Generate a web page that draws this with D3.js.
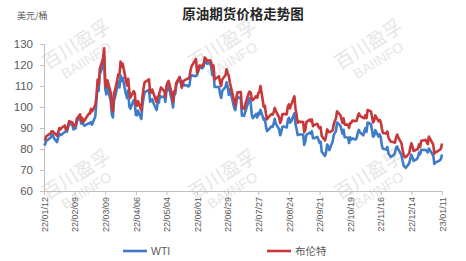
<!DOCTYPE html>
<html><head><meta charset="utf-8">
<script src="https://cdn.jsdelivr.net/npm/d3@7"></script>
<style>body{margin:0;background:#fff}svg{display:block}</style>
</head><body><svg id="c" width="466" height="261"></svg>
<script>
const dates = [
"22/01/12","22/01/13","22/01/14","22/01/18","22/01/19","22/01/20","22/01/21","22/01/24","22/01/25","22/01/26","22/01/27","22/01/28","22/01/31",
"22/02/01","22/02/02","22/02/03","22/02/04","22/02/07","22/02/08","22/02/09","22/02/10","22/02/11","22/02/14","22/02/15","22/02/16","22/02/17","22/02/18","22/02/22","22/02/23","22/02/24","22/02/25","22/02/28",
"22/03/01","22/03/02","22/03/03","22/03/04","22/03/07","22/03/08","22/03/09","22/03/10","22/03/11","22/03/14","22/03/15","22/03/16","22/03/17","22/03/18","22/03/21","22/03/22","22/03/23","22/03/24","22/03/25","22/03/28","22/03/29","22/03/30","22/03/31",
"22/04/01","22/04/04","22/04/05","22/04/06","22/04/07","22/04/08","22/04/11","22/04/12","22/04/13","22/04/14","22/04/18","22/04/19","22/04/20","22/04/21","22/04/22","22/04/25","22/04/26","22/04/27","22/04/28","22/04/29",
"22/05/02","22/05/03","22/05/04","22/05/05","22/05/06","22/05/09","22/05/10","22/05/11","22/05/12","22/05/13","22/05/16","22/05/17","22/05/18","22/05/19","22/05/20","22/05/23","22/05/24","22/05/25","22/05/26","22/05/27","22/05/31",
"22/06/01","22/06/02","22/06/03","22/06/06","22/06/07","22/06/08","22/06/09","22/06/10","22/06/13","22/06/14","22/06/15","22/06/16","22/06/17","22/06/21","22/06/22","22/06/23","22/06/24","22/06/27","22/06/28","22/06/29","22/06/30",
"22/07/01","22/07/05","22/07/06","22/07/07","22/07/08","22/07/11","22/07/12","22/07/13","22/07/14","22/07/15","22/07/18","22/07/19","22/07/20","22/07/21","22/07/22","22/07/25","22/07/26","22/07/27","22/07/28","22/07/29",
"22/08/01","22/08/02","22/08/03","22/08/04","22/08/05","22/08/08","22/08/09","22/08/10","22/08/11","22/08/12","22/08/15","22/08/16","22/08/17","22/08/18","22/08/19","22/08/22","22/08/23","22/08/24","22/08/25","22/08/26","22/08/29","22/08/30","22/08/31",
"22/09/01","22/09/02","22/09/06","22/09/07","22/09/08","22/09/09","22/09/12","22/09/13","22/09/14","22/09/15","22/09/16","22/09/19","22/09/20","22/09/21","22/09/22","22/09/23","22/09/26","22/09/27","22/09/28","22/09/29","22/09/30",
"22/10/03","22/10/04","22/10/05","22/10/06","22/10/07","22/10/10","22/10/11","22/10/12","22/10/13","22/10/14","22/10/17","22/10/18","22/10/19","22/10/20","22/10/21","22/10/24","22/10/25","22/10/26","22/10/27","22/10/28","22/10/31",
"22/11/01","22/11/02","22/11/03","22/11/04","22/11/07","22/11/08","22/11/09","22/11/10","22/11/11","22/11/14","22/11/15","22/11/16","22/11/17","22/11/18","22/11/21","22/11/22","22/11/23","22/11/25","22/11/28","22/11/29","22/11/30",
"22/12/01","22/12/02","22/12/05","22/12/06","22/12/07","22/12/08","22/12/09","22/12/12","22/12/13","22/12/14","22/12/15","22/12/16","22/12/19","22/12/20","22/12/21","22/12/22","22/12/23","22/12/27","22/12/28","22/12/29","22/12/30",
"23/01/03","23/01/04","23/01/05","23/01/06","23/01/09","23/01/10","23/01/11"];

const wti = [
82.64,82.12,83.82,85.43,86.96,86.90,85.14,83.31,85.60,87.35,86.61,86.82,88.15,
88.20,88.26,90.27,92.31,91.32,89.36,89.66,89.88,93.10,95.46,92.07,93.66,91.76,91.07,92.35,92.10,92.81,91.59,95.72,
103.41,110.60,107.67,115.68,119.40,123.70,108.70,106.02,109.33,103.01,96.44,95.04,102.98,104.70,112.12,109.27,114.93,112.34,113.90,105.96,104.24,107.82,100.28,
99.27,103.28,101.96,96.23,96.03,98.26,94.29,100.60,104.25,106.95,108.21,102.56,102.75,103.79,102.07,98.54,101.70,102.02,105.36,104.69,
105.17,102.41,107.81,108.26,109.77,103.09,99.76,105.71,106.13,110.49,114.20,112.40,109.59,112.21,110.28,110.29,109.77,110.33,114.09,115.07,114.67,
115.26,116.87,118.87,118.50,119.41,122.11,121.51,120.67,120.93,118.93,115.31,117.59,109.56,109.52,106.19,104.27,107.62,109.57,111.76,109.78,105.76,
108.43,99.50,98.53,102.73,104.79,104.09,95.84,96.30,95.78,97.59,102.60,104.22,102.26,96.35,94.70,96.70,94.98,97.26,96.42,98.62,
93.89,94.42,90.66,88.54,89.01,90.76,90.50,91.93,94.34,92.09,89.41,86.53,88.11,90.50,90.77,90.23,93.74,94.89,92.52,93.06,97.01,91.64,89.55,
86.61,86.87,86.88,81.94,83.54,86.79,87.78,87.31,88.48,85.10,85.11,85.73,84.45,82.94,83.49,78.74,76.71,78.50,82.15,81.23,79.49,
83.63,86.52,87.76,88.45,92.64,91.13,89.35,87.27,89.11,85.61,85.46,82.82,85.55,84.51,85.05,84.58,85.32,87.91,89.08,87.90,86.53,
88.37,90.00,88.17,92.61,91.79,88.91,85.83,86.47,88.96,85.87,86.92,85.59,81.64,80.08,79.73,80.95,77.94,76.28,77.24,78.20,80.55,
81.22,79.98,76.93,74.25,72.01,71.46,71.02,73.17,75.39,77.28,76.11,74.29,75.19,76.09,78.29,77.49,79.56,79.53,78.96,78.40,80.26,
76.93,72.84,73.67,73.77,74.63,75.12,77.41];

const brent = [
84.67,84.47,86.06,87.51,88.44,88.38,87.89,86.27,88.20,89.96,89.34,90.03,91.21,
89.16,89.47,91.11,93.27,92.69,90.78,91.55,91.41,94.44,96.48,93.28,94.81,92.97,93.54,96.84,96.84,99.08,97.93,100.99,
104.97,112.93,110.46,118.11,123.21,127.98,111.14,109.33,112.67,106.90,99.91,98.02,106.64,107.93,115.62,115.48,121.60,119.03,120.65,112.48,110.23,113.45,107.91,
104.39,107.53,106.64,101.07,100.58,102.78,98.48,104.64,108.78,111.70,113.16,107.25,106.80,108.33,106.65,102.32,104.99,105.32,107.59,109.34,
107.58,104.97,110.14,111.55,112.39,105.94,102.46,107.51,107.45,111.55,114.24,111.93,109.11,112.04,112.55,113.42,113.56,114.03,117.40,119.43,122.84,
116.29,117.61,119.72,119.51,120.57,123.58,123.07,122.01,122.27,121.17,118.51,119.81,113.12,114.65,111.74,110.05,113.12,115.09,117.98,116.26,114.81,
111.63,102.77,100.69,104.65,107.02,107.10,99.49,99.57,99.10,101.16,106.27,107.35,106.92,103.86,103.20,105.15,104.40,106.62,107.14,110.01,
100.03,100.54,96.78,94.12,94.92,96.65,96.31,97.40,99.60,98.15,95.10,92.34,93.65,96.59,96.72,96.48,100.22,101.22,99.34,100.99,105.09,99.31,96.49,
92.36,93.02,92.83,88.00,89.15,92.84,94.00,93.17,94.10,90.84,91.35,92.00,90.62,89.83,90.46,86.15,84.06,86.27,89.32,88.49,87.96,
88.86,91.80,93.37,94.42,97.92,96.19,94.29,92.45,94.57,91.63,91.62,90.03,92.41,92.38,93.50,93.26,93.52,95.69,96.96,95.77,94.83,
94.65,96.16,94.67,98.57,97.92,95.36,92.65,93.67,95.99,93.14,93.86,92.86,89.78,87.62,87.45,88.36,85.41,83.63,83.19,83.03,85.43,
86.88,85.57,82.68,79.35,77.17,76.15,76.10,77.99,80.68,82.70,81.21,79.04,79.80,79.99,82.20,80.98,83.92,84.33,83.26,82.26,85.91,
82.10,77.84,78.69,78.57,79.65,80.10,82.67];

const xTickLabels = ["22/01/12","22/02/09","22/03/09","22/04/06","22/05/04","22/06/01","22/06/29","22/07/27","22/08/24","22/09/21","22/10/19","22/11/16","22/12/14","23/01/11"];
const yTicks = [60,70,80,90,100,110,120,130];
const seriesNames = ["WTI","布伦特"];

const parse = d3.timeParse("%y/%m/%d");
const svg = d3.select("#c");
const cjk = "'Noto Sans CJK SC', sans-serif";
const lat = "'Liberation Sans', Arial, sans-serif";

// watermark
const wm = svg.append("g");
[[80,50],[226,50],[372,50],[80,180],[226,180],[372,180]].forEach(([cx,cy])=>{
  const g = wm.append("g").attr("transform",`translate(${cx},${cy}) rotate(-32)`);
  g.append("text").attr("text-anchor","middle").attr("y",0).attr("font-family",cjk)
    .attr("font-size",19).attr("fill","#e6e6e6").text("百川盈孚");
  g.append("text").attr("text-anchor","middle").attr("y",17).attr("font-family",lat)
    .attr("font-size",14).attr("fill","#e6e6e6").text("BAIINFO");
});

const x = d3.scaleTime().domain([parse("22/01/12"), parse("23/01/11")]).range([44, 442]);
const y = d3.scaleLinear().domain([60,130]).range([191,44]);

// y axis
const ya = svg.append("g").attr("transform","translate(44,0)")
  .call(d3.axisLeft(y).tickValues(yTicks).tickSize(4).tickPadding(7));
ya.select(".domain").attr("stroke","#bfbfbf");
ya.selectAll(".tick line").attr("stroke","#bfbfbf");
ya.selectAll("text").attr("font-family",lat).attr("font-size",11.5).attr("fill","#595959");

// x axis
const xa = svg.append("g").attr("transform","translate(0,191)")
  .call(d3.axisBottom(x).tickValues(xTickLabels.map(parse)).tickFormat(d3.timeFormat("%y/%m/%d")).tickSize(4).tickSizeOuter(0));
xa.select(".domain").attr("stroke","#bfbfbf");
xa.selectAll(".tick line").attr("stroke","#bfbfbf");
xa.selectAll("text").attr("font-family",lat).attr("font-size",9).attr("fill","#595959")
  .attr("text-anchor","end").attr("transform","rotate(-90)").attr("x",-6).attr("y",0).attr("dy","0.35em");

const pts = dates.map((d,i)=>({d:parse(d), w:wti[i], b:brent[i]}));
const lw = d3.line().x(p=>x(p.d)).y(p=>y(p.w));
const lb = d3.line().x(p=>x(p.d)).y(p=>y(p.b));
const colors = ["#3E7CC8","#C8383A"];
svg.append("path").datum(pts).attr("d",lw).attr("fill","none").attr("stroke",colors[0]).attr("stroke-width",2.6).attr("stroke-linejoin","round");
svg.append("path").datum(pts).attr("d",lb).attr("fill","none").attr("stroke",colors[1]).attr("stroke-width",2.6).attr("stroke-linejoin","round");

// title
svg.append("text").attr("x",243).attr("y",19).attr("text-anchor","middle").attr("font-family",cjk)
  .attr("font-weight","bold").attr("font-size",13.5).attr("fill","#262626").text("原油期货价格走势图");
svg.append("text").attr("x",17).attr("y",19).attr("font-family",cjk)
  .attr("font-size",9).attr("fill","#595959").text("美元/桶");

// legend
const leg = [[123,seriesNames[0],colors[0]],[267,seriesNames[1],colors[1]]];
leg.forEach(([lx,name,c])=>{
  svg.append("line").attr("x1",lx).attr("x2",lx+24).attr("y1",251).attr("y2",251).attr("stroke",c).attr("stroke-width",2.6);
  svg.append("text").attr("x",lx+28).attr("y",255).attr("font-family",name==="WTI"?lat:cjk)
    .attr("font-size",10.5).attr("fill","#595959").text(name);
});
</script></body></html>
